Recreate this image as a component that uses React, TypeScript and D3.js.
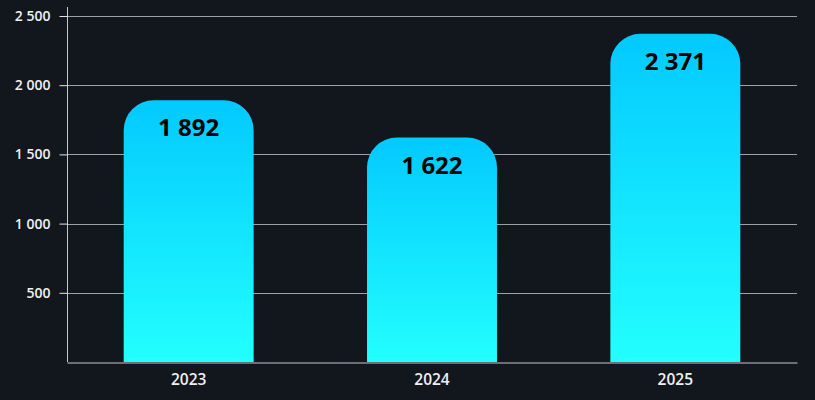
import { useEffect, useRef } from 'react';
import * as d3 from 'd3';

const years = ['2023', '2024', '2025'];
const values = [1892, 1622, 2371];
const yTicks = [500, 1000, 1500, 2000, 2500];

const fmt = (v: number) => d3.format(',')(v).replace(/,/g, ' ');

export default function App() {
  const svgRef = useRef<SVGSVGElement>(null);

  useEffect(() => {
    if (!svgRef.current) return;
    const svg = d3.select(svgRef.current);
    svg.selectAll('*').remove();

    const width = 815;
    const height = 400;
    const margin = { top: 7, right: 18, bottom: 38, left: 67 };
    const font = '"Open Sans", "Noto Sans", sans-serif';

    svg.append('rect').attr('width', width).attr('height', height).attr('fill', '#12171e');

    const defs = svg.append('defs');
    const grad = defs.append('linearGradient')
      .attr('id', 'barGrad')
      .attr('x1', 0).attr('y1', 0).attr('x2', 0).attr('y2', 1);
    grad.append('stop').attr('offset', '0%').attr('stop-color', '#03c9ff');
    grad.append('stop').attr('offset', '100%').attr('stop-color', '#22ffff');

    const x = d3.scaleBand<string>()
      .domain(years)
      .range([margin.left, width - margin.right])
      .paddingInner(0.466)
      .paddingOuter(0.233);

    const y = d3.scaleLinear()
      .domain([0, 2565])
      .range([height - margin.bottom, margin.top]);

    // gridlines
    svg.append('g')
      .selectAll('line')
      .data(yTicks)
      .join('line')
      .attr('x1', margin.left)
      .attr('x2', width - margin.right)
      .attr('y1', d => Math.round(y(d)) + 0.5)
      .attr('y2', d => Math.round(y(d)) + 0.5)
      .attr('stroke', '#9aa0a6')
      .attr('stroke-width', 1);

    // bars with rounded top corners
    const r = 30;
    const barPath = (x0: number, w: number, top: number, bottom: number) => {
      const rr = Math.min(r, w / 2, bottom - top);
      return `M${x0},${bottom}V${top + rr}A${rr},${rr} 0 0 1 ${x0 + rr},${top}H${x0 + w - rr}A${rr},${rr} 0 0 1 ${x0 + w},${top + rr}V${bottom}Z`;
    };

    svg.append('g')
      .selectAll('path')
      .data(values)
      .join('path')
      .attr('d', (d, i) => barPath(x(years[i])!, x.bandwidth(), y(d), y(0)))
      .attr('fill', 'url(#barGrad)');

    svg.append('g')
      .selectAll('text')
      .data(values)
      .join('text')
      .attr('x', (_, i) => x(years[i])! + x.bandwidth() / 2)
      .attr('y', d => y(d) + 36)
      .attr('text-anchor', 'middle')
      .attr('font-family', font)
      .attr('font-weight', 700)
      .attr('font-size', 24)
      .attr('fill', '#000')
      .text(d => fmt(d));

    // y axis
    const yAxis = svg.append('g')
      .attr('transform', `translate(${margin.left + 0.5},0)`)
      .call(d3.axisLeft(y).tickValues(yTicks).tickSize(8).tickPadding(9).tickFormat(d => fmt(+d)));
    yAxis.select('.domain').attr('d', `M0,${margin.top}V${y(0)}`).attr('stroke', '#c8c8c8');
    yAxis.selectAll('.tick line').attr('stroke', '#e6e6e6');
    yAxis.selectAll('.tick text')
      .attr('fill', '#f0f0f0')
      .attr('font-family', font)
      .attr('font-weight', 600)
      .attr('font-size', 14);

    // x axis
    const xAxis = svg.append('g')
      .attr('transform', `translate(0,${Math.round(y(0)) + 0.5})`)
      .call(d3.axisBottom(x).tickSize(0).tickPadding(11));
    xAxis.select('.domain').attr('stroke', '#c8c8c8');
    xAxis.selectAll('.tick text')
      .attr('fill', '#f0f0f0')
      .attr('font-family', font)
      .attr('font-weight', 600)
      .attr('font-size', 15.5);
  }, []);

  return (
    <svg
      ref={svgRef}
      width={815}
      height={400}
      style={{ position: 'absolute', left: 0, top: 0, display: 'block' }}
    />
  );
}
